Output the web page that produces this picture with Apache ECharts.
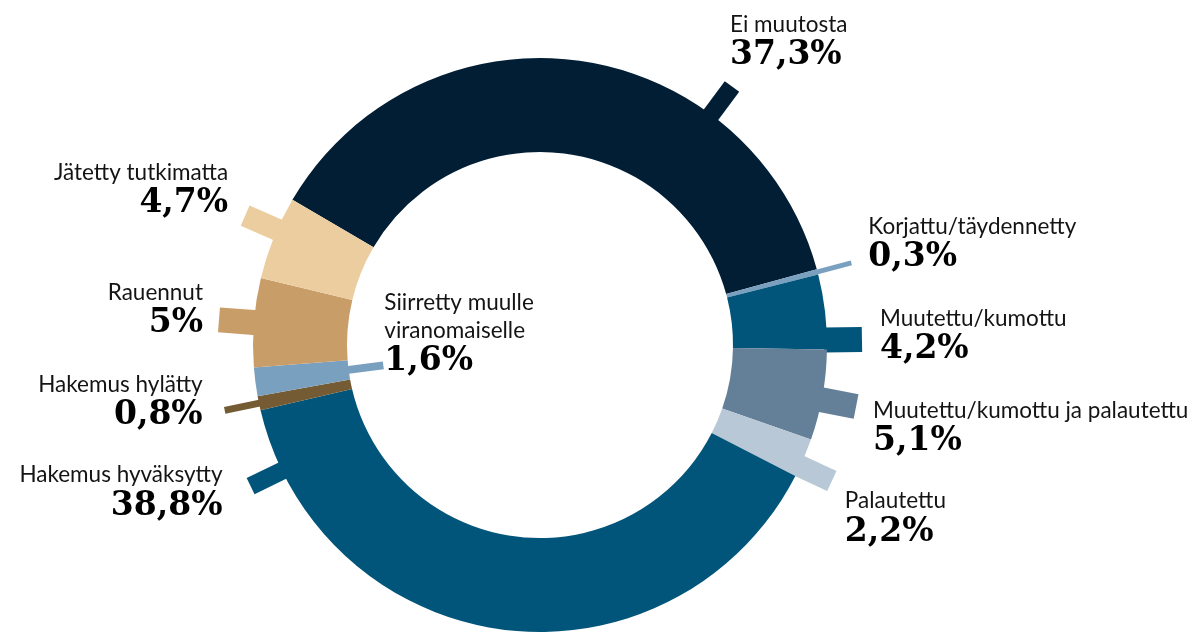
<!DOCTYPE html>
<html>
<head>
<meta charset="utf-8">
<script src="https://cdn.jsdelivr.net/npm/echarts@6/dist/echarts.min.js"></script>
<style>
html,body{margin:0;padding:0;background:#fff;}
#chart{width:1195px;height:632px;}
</style>
</head>
<body>
<div id="chart"></div>
<script>
// ---- data ----
const categories = [
  'Ei muutosta',
  'Korjattu/täydennetty',
  'Muutettu/kumottu',
  'Muutettu/kumottu ja palautettu',
  'Palautettu',
  'Hakemus hyväksytty',
  'Hakemus hylätty',
  'Siirretty muulle\nviranomaiselle',
  'Rauennut',
  'Jätetty tutkimatta'
];
const shares = [37.3, 0.3, 4.2, 5.1, 2.2, 38.8, 0.8, 1.6, 5, 4.7];

// ---- styles / layout ----
const colors = ['#021e34', '#7aa0c0', '#02557a', '#647f98', '#b8c8d6',
                '#02557a', '#745b33', '#7aa0c0', '#c99d67', '#eccd9f'];
const stubWidth = [18, 5, 25, 25, 22, 18, 7, 8, 25, 22];
const stubAngle = [53.4, null, 1, -11, -25, -154, null, null, null, 156.3]; // null = mid angle
const stubInward = [false, false, false, false, false, false, false, true, false, false];
const labelAlign = ['left', 'left', 'left', 'left', 'left', 'right', 'right', 'left', 'right', 'right'];
const labelOffset = [[-2, -45], [17, -19], [18, -4], [17, 21], [13, 37],
                     [-28, 6], [-22, -9], [1, -32], [-16, -10], [-17, -26]];

const CX = 540, CY = 345, R0 = 193, R1 = 287, STUB = 35, START = 149.6;

const total = shares.reduce((a, b) => a + b, 0);
const midAngles = [];
let cum = 0;
shares.forEach(v => { midAngles.push(START - (cum + v / 2) / total * 360); cum += v; });

function pt(angDeg, r) {
  const a = angDeg * Math.PI / 180;
  return [CX + r * Math.cos(a), CY - r * Math.sin(a)];
}

const chart = echarts.init(document.getElementById('chart'), null, {renderer: 'canvas'});

const data = categories.map((name, i) => ({
  name: name,
  value: shares[i],
  itemStyle: { color: colors[i] },
  labelLine: { lineStyle: { color: colors[i], width: stubWidth[i], cap: 'butt' } }
}));

chart.setOption({
  animation: false,
  backgroundColor: '#ffffff',
  series: [{
    type: 'pie',
    center: [CX, CY],
    radius: [R0, R1],
    startAngle: START,
    clockwise: true,
    avoidLabelOverlap: false,
    minShowLabelAngle: 0,
    itemStyle: { borderWidth: 0 },
    emphasis: { disabled: true },
    data: data,
    label: {
      show: true,
      position: 'outside',
      formatter: p => '{n|' + p.name + '}\n{v|' + String(p.value).replace('.', ',') + '%}',
      rich: {
        n: { fontFamily: 'Lato', fontSize: 22.5, lineHeight: 28, color: '#141414' },
        v: { fontFamily: 'DejaVu Serif', fontWeight: 'bold', fontSize: 33, lineHeight: 34, color: '#000000' }
      }
    },
    labelLine: { show: true, length: 20, length2: 0, smooth: false },
    labelLayout: function (params) {
      const i = params.dataIndex;
      const ang = stubAngle[i] == null ? midAngles[i] : stubAngle[i];
      let a, b;
      if (stubInward[i]) {
        a = pt(ang, R0 + 4);
        b = pt(ang, R0 - STUB);
      } else {
        a = pt(ang, R1 - 3);
        b = pt(ang, R1 + STUB);
      }
      const off = labelOffset[i];
      return {
        x: b[0] + off[0],
        y: b[1] + off[1],
        align: labelAlign[i],
        verticalAlign: 'middle',
        hideOverlap: false,
        labelLinePoints: [a, b]
      };
    }
  }]
});
</script>
</body>
</html>
